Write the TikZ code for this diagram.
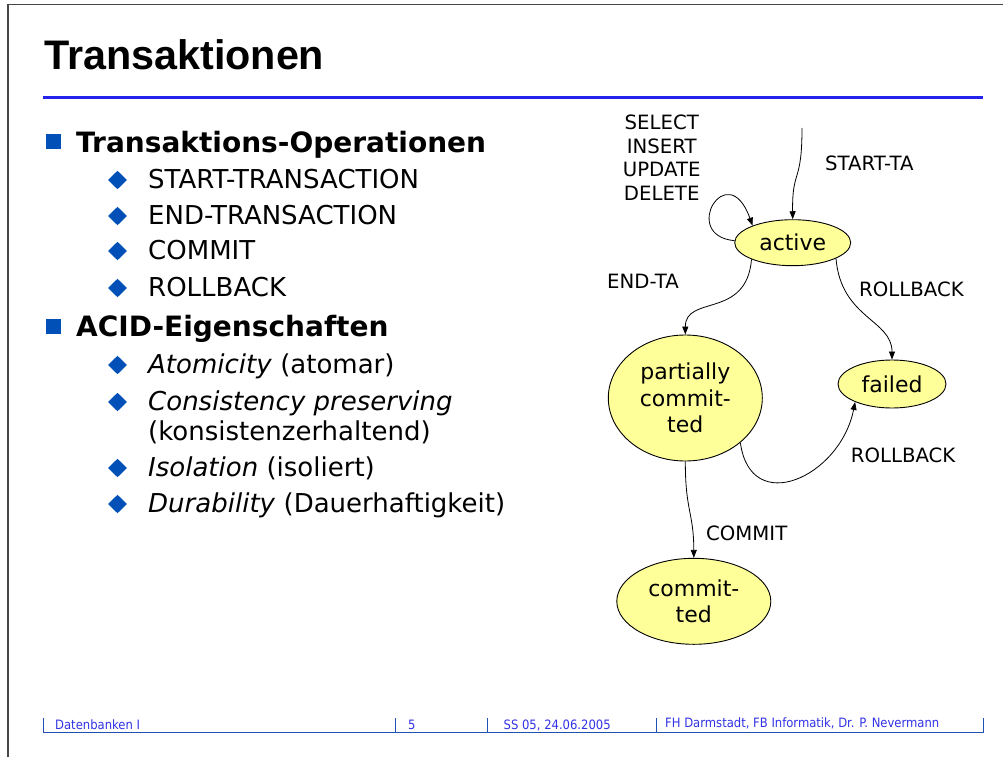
\documentclass[tikz,border=0pt]{standalone}
\usepackage{fontspec}
\setmainfont{DejaVu Sans}
\newfontfamily\titlefont{Liberation Sans}
\newfontfamily\footfont{DejaVu Sans Condensed}
\usetikzlibrary{shapes.geometric,arrows.meta}
\definecolor{bulletblue}{RGB}{0,80,184}
\definecolor{rulerblue}{RGB}{35,35,235}
\definecolor{footblue}{RGB}{30,80,180}
\definecolor{foottext}{RGB}{50,50,230}
\definecolor{stateyellow}{RGB}{255,255,153}
\definecolor{framegray}{RGB}{70,70,70}
\begin{document}
\begin{tikzpicture}[x=1pt,y=-1pt,
  lvlone/.style={anchor=base west,inner sep=0pt,font=\fontsize{28}{33}\selectfont\bfseries},
  lvltwo/.style={anchor=base west,inner sep=0pt,font=\fontsize{26}{30}\selectfont},
  foot/.style={anchor=base west,inner sep=0pt,text=foottext,font=\footfont\fontsize{12.9}{14}\selectfont},
  state/.style={ellipse,draw=black,line width=0.9pt,fill=stateyellow,inner sep=0pt,align=center,font=\fontsize{22}{26.7}\selectfont},
  edgelbl/.style={inner sep=0pt,font=\fontsize{19.7}{23.5}\selectfont},
  trans/.style={draw=black,line width=0.8pt,-{Triangle[length=8pt,width=6pt]}}
]
\useasboundingbox (0,0) rectangle (1003,757);
% frame
\draw[framegray,line width=1.2pt] (8,757) -- (8,4.3) -- (1003,4.3);
% title
\node[anchor=base west,inner sep=0pt,font=\titlefont\fontsize{41.3}{44}\selectfont\bfseries] (title) at (44,70) {Transaktionen};
\draw[rulerblue,line width=2.5pt] (43,97.7) -- (983,97.7);
% level one bullets
\fill[bulletblue] (45.5,133.5) rectangle +(15,15);
\node[lvlone] (t1) at (76,152) {Transaktions-Operationen};
\fill[bulletblue] (45.5,318.5) rectangle +(15,15);
\node[lvlone] (t2) at (76,336) {ACID-Eigenschaften};
% level two bullets
\foreach \y in {188,224,259,296,373,410,476,512}{
  \fill[bulletblue] (117.5,\y-8) +(-9.5,0) -- +(0,-9.2) -- +(9.5,0) -- +(0,9.2) -- cycle;
}
\node[lvltwo] (o1) at (148,188) {START-TRANSACTION};
\node[lvltwo] (o2) at (148,224) {END-TRANSACTION};
\node[lvltwo] (o3) at (148,259) {COMMIT};
\node[lvltwo] (o4) at (148,296) {ROLLBACK};
\node[lvltwo] (a1) at (148,373) {\textit{Atomicity} (atomar)};
\node[lvltwo] (a2) at (148,410) {\textit{Consistency preserving}};
\node[lvltwo] (a2b) at (148,440) {(konsistenzerhaltend)};
\node[lvltwo] (a3) at (148,476) {\textit{Isolation} (isoliert)};
\node[lvltwo] (a4) at (148,512) {\textit{Durability} (Dauerhaftigkeit)};
% states
\node[state,minimum width=116pt,minimum height=46pt] (active) at (792.7,242.7) {active};
\node[state,minimum width=154pt,minimum height=126pt] (partial) at (685.3,398) {partially\\commit-\\ted};
\node[state,minimum width=108pt,minimum height=48pt] (failed) at (892,384) {failed};
\node[state,minimum width=154pt,minimum height=86pt] (committed) at (693.8,601.3) {commit-\\ted};
% labels
\node[edgelbl,align=center,anchor=base] (ops) at (661.7,200) {SELECT\\INSERT\\UPDATE\\DELETE};
\node[edgelbl,anchor=base west] (lstart) at (825,170) {START-TA};
\node[edgelbl,anchor=base west] (lend) at (607,288) {END-TA};
\node[edgelbl,anchor=base west] (lrb1) at (859,296.7) {ROLLBACK};
\node[edgelbl,anchor=base west] (lrb2) at (850.7,462.7) {ROLLBACK};
\node[edgelbl,anchor=base west] (lcommit) at (706,540.7) {COMMIT};
% transitions
\coordinate (s0) at (802,128);
\draw[trans] (s0) .. controls (802,185) and (792,168) .. (active.north);
\draw[trans] (active.178) .. controls +(-55,-5) and +(-25,-70) .. (active.157);
\draw[trans] (active.202) .. controls +(-5,60) and +(0,-40) .. (partial.north);
\draw[trans] (active.340) .. controls +(5,60) and +(0,-40) .. (failed.north);
\draw[trans] (partial.321) .. controls +(10,75) and +(-15,75) .. (failed.206);
\draw[trans] (partial.south) .. controls +(0,50) and +(0,-45) .. (committed.north);
% footer
\draw[footblue,line width=1.2pt] (43.3,717.7) -- (43.3,732.3) -- (983.3,732.3) -- (983.3,717.7);
\draw[footblue,line width=1pt] (395,718) -- (395,732.3);
\draw[footblue,line width=1pt] (487.5,718) -- (487.5,732.3);
\draw[footblue,line width=1pt] (656,718) -- (656,732.3);
\node[foot] (f1) at (55,729) {Datenbanken I};
\node[foot] (f2) at (408,729) {5};
\node[foot] (f3) at (503.5,729) {SS 05, 24.06.2005};
\node[foot] (f4) at (665,727) {FH Darmstadt, FB Informatik, Dr. P. Nevermann};
\end{tikzpicture}
\end{document}
